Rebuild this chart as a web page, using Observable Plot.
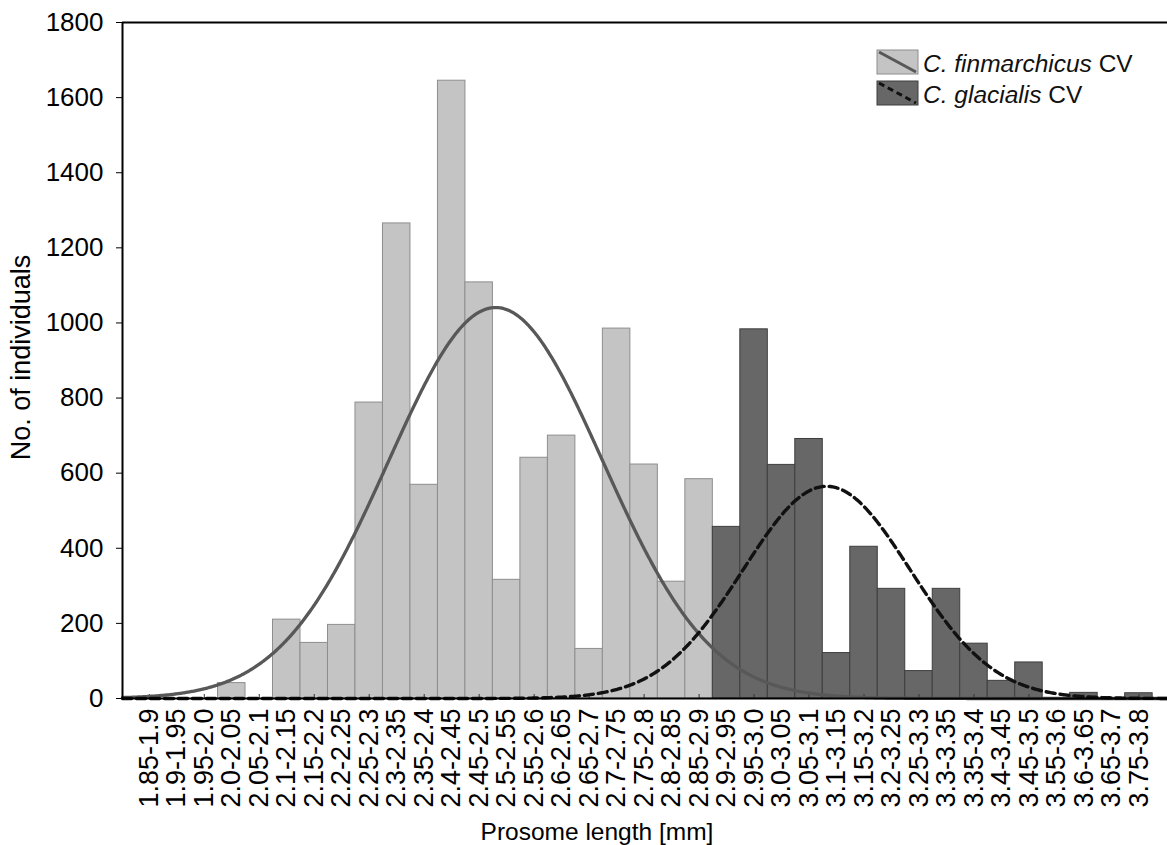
<!DOCTYPE html>
<html>
<head>
<meta charset="utf-8">
<script src="https://cdn.jsdelivr.net/npm/d3@7"></script>
<script src="https://cdn.jsdelivr.net/npm/@observablehq/plot@0.6"></script>
<style>
  body { margin: 0; background: #fff; }
  #chart { position: relative; width: 1167px; height: 845px; font-family: "Liberation Sans", Arial, sans-serif; }
  #legend { position: absolute; left: 0; top: 0; pointer-events: none; }
</style>
</head>
<body>
<div id="chart"></div>
<script>
// Size classes of prosome length (mm), in drawing order
const classLabels = [
  "1.85-1.9", "1.9-1.95", "1.95-2.0", "2.0-2.05", "2.05-2.1", "2.1-2.15", "2.15-2.2",
  "2.2-2.25", "2.25-2.3", "2.3-2.35", "2.35-2.4", "2.4-2.45", "2.45-2.5", "2.5-2.55",
  "2.55-2.6", "2.6-2.65", "2.65-2.7", "2.7-2.75", "2.75-2.8", "2.8-2.85", "2.85-2.9",
  "2.9-2.95", "2.95-3.0", "3.0-3.05", "3.05-3.1", "3.1-3.15", "3.15-3.2", "3.2-3.25",
  "3.25-3.3", "3.3-3.35", "3.35-3.4", "3.4-3.45", "3.45-3.5", "3.55-3.6", "3.6-3.65",
  "3.65-3.7", "3.75-3.8"
];

// Counts of C. finmarchicus CV, classes 1.85-1.9 … 2.85-2.9
const finmarchicusCounts = [
  0, 0, 0, 41, 0, 210, 148, 196, 788, 1265, 569, 1645, 1108, 316,
  641, 700, 132, 985, 623, 311, 584
];

// Counts of C. glacialis CV, classes 2.9-2.95 … 3.75-3.8
const glacialisCounts = [
  457, 983, 622, 691, 121, 404, 292, 73, 292, 146, 47, 96, 0, 15, 0, 14
];

const speciesNames = ["C. finmarchicus", "C. glacialis"];
const stageName = "CV";

// Fitted normal curves (mean and sd in class steps, peak in individuals)
const finmarchicusFit = { mean: 12.6, sd: 3.9, peak: 1041 };
const glacialisFit = { mean: 24.64, sd: 3.04, peak: 565 };

const yTicks = [0, 200, 400, 600, 800, 1000, 1200, 1400, 1600, 1800];

const LIGHT = "#c4c4c4", DARK = "#676767";
const FONT = '"Liberation Sans", Arial, sans-serif';

// ---- table for the bars ----
const bars = [
  ...finmarchicusCounts.map((count, i) => ({ i, count, species: 0 })),
  ...glacialisCounts.map((count, k) => ({ i: finmarchicusCounts.length + k, count, species: 1 }))
];

const xDomain = [-0.975, 37.04];
const samples = d3.range(xDomain[0], xDomain[1] + 0.001, 0.04);
const normal = (fit) => samples.map(x => ({
  x, y: fit.peak * Math.exp(-((x - fit.mean) ** 2) / (2 * fit.sd ** 2))
}));
const evenTicks = d3.range(0, classLabels.length, 2);

const chart = Plot.plot({
  width: 1167,
  height: 845,
  marginLeft: 122,
  marginRight: 0,
  marginTop: 22,
  marginBottom: 147,
  style: { fontFamily: FONT, background: "white", color: "black", overflow: "visible" },
  x: { domain: xDomain, axis: null },
  y: { domain: [0, 1800], axis: null },
  marks: [
    Plot.rectY(bars, {
      x1: d => d.i - 0.5, x2: d => d.i + 0.5, y: "count",
      fill: d => d.species === 0 ? LIGHT : DARK,
      stroke: d => d.species === 0 ? "#8e8e8e" : "#3e3e3e",
      strokeWidth: 1
    }),
    Plot.ruleX(evenTicks, { x: d => d, y1: 0, y2: 0, insetTop: -4, stroke: "#333", strokeWidth: 1 }),
    Plot.line(normal(finmarchicusFit), { x: "x", y: "y", stroke: "#585858", strokeWidth: 3.3 }),
    Plot.line(normal(glacialisFit), { x: "x", y: "y", stroke: "#111", strokeWidth: 3.4, strokeDasharray: "9,5" }),
    Plot.axisY({ ticks: yTicks, tickFormat: d => String(d), tickSize: 6, tickPadding: 13, fontSize: 26, label: null }),
    Plot.axisX({
      ticks: d3.range(classLabels.length), tickFormat: i => classLabels[i],
      tickRotate: -90, tickSize: 0, tickPadding: 10, fontSize: 27, label: null
    }),
    Plot.ruleY([0], { stroke: "black", strokeWidth: 2 }),
    Plot.ruleY([1800], { stroke: "black", strokeWidth: 2 }),
    Plot.ruleX([xDomain[0]], { stroke: "black", strokeWidth: 2 }),
    Plot.text(["Prosome length [mm]"], { frameAnchor: "bottom", lineAnchor: "middle", dx: -48, dy: 134, fontSize: 24.5 }),
    Plot.text(["No. of individuals"], {
      frameAnchor: "left", textAnchor: "middle", lineAnchor: "middle",
      rotate: -90, dx: -101, dy: -3, fontSize: 27
    })
  ]
});

const root = document.getElementById("chart");
root.appendChild(chart);

// ---- legend ----
const legendItems = [
  { name: speciesNames[0], fill: LIGHT, edge: "#8e8e8e", line: "#585858", dash: null },
  { name: speciesNames[1], fill: DARK, edge: "#3e3e3e", line: "#111", dash: "6,4" }
];
const legend = d3.select(root).append("svg")
  .attr("id", "legend").attr("width", 1167).attr("height", 845);
const rowG = legend.selectAll("g").data(legendItems).join("g")
  .attr("transform", (d, k) => `translate(877,${50 + k * 31})`);
rowG.append("rect").attr("width", 41).attr("height", 24)
  .attr("fill", d => d.fill).attr("stroke", d => d.edge).attr("stroke-width", 1);
rowG.append("line").attr("x1", 2).attr("y1", 2).attr("x2", 39).attr("y2", 22)
  .attr("stroke", d => d.line).attr("stroke-width", 3)
  .attr("stroke-dasharray", d => d.dash);
const label = rowG.append("text").attr("x", 46).attr("y", 22)
  .attr("font-family", FONT).attr("font-size", 24.5).attr("fill", "#111");
label.append("tspan").attr("font-style", "italic").text(d => d.name);
label.append("tspan").text(" " + stageName);
</script>
</body>
</html>
